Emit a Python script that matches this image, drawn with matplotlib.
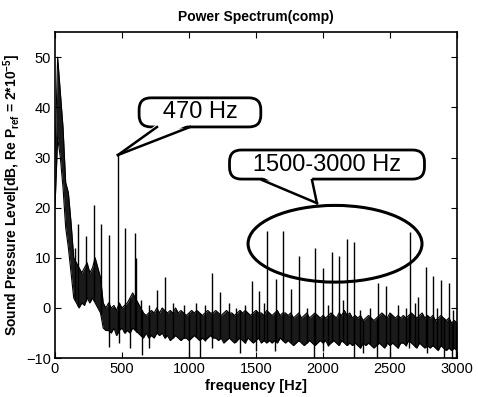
import numpy as np
import matplotlib
matplotlib.use('Agg')
import matplotlib.pyplot as plt
from matplotlib.patches import Ellipse, Polygon
from matplotlib.lines import Line2D

plt.rcParams['font.family'] = ['Liberation Sans', 'DejaVu Sans']
plt.rcParams['mathtext.fontset'] = 'custom'
plt.rcParams['mathtext.rm'] = 'Liberation Sans'
plt.rcParams['mathtext.bf'] = 'Liberation Sans:bold'
plt.rcParams['mathtext.default'] = 'bf'

# noise band of the spectrum, every 20 Hz from 0 to 3000 Hz
band_freq = np.arange(0, 3001, 20)
band_upper = [30, 50, 43, 36, 25, 23, 17, 10, 9, 8,
              7, 8, 9, 7, 8, 10, 8, 6, 1, 0,
              1, 0, 0.5, -0.5, 1, 0, 0.5, 1, 2, 3,
              2, 1, 0, -1, -1.5, -1, -0.5, -1, 0, -1,
              0, -0.5, -1, -0.5, -1, 0, -1, -0.5, -1, -1.5,
              -1, -0.5, -1, -0.5, -1, -1.5, -1, -0.5, -1, -1,
              -0.5, -1, -1.5, -1, -0.5, -1, -1, -1.5, -1, -0.5,
              -1, -0.5, -1, -1.5, -1, -0.5, -1, -1, -1.5, -0.5,
              -1, -1.5, -1, -0.5, -1.5, -1, -1, -1.5, -1, -2,
              -1.5, -1, -2, -1.5, -1, -2, -1.5, -1, -1.5, -2,
              -1.5, -2, -1.5, -1, -1.5, -2, -1, -1.5, -0.5, -1.5,
              -1, -2, -1.5, -2, -1.5, -2.5, -2, -1.5, -2, -2.5,
              -2, -1.5, -1, -1.5, -2, -1, -1.5, -2, -1.5, -2,
              -1.5, -2, -1.5, -1, -1.5, -2, -1.5, -1, -2, -1.5,
              -2, -1.5, -2.5, -2, -1.5, -2, -2.5, -2, -3, -2.5,
              -3]
band_lower = [20, 34, 30, 24, 16, 12, 7, 2, 1, 0,
              1, 0.5, 2, 1, 2, 1, 0, -1, -4, -4.5,
              -4.5, -5, -4, -5.5, -4.5, -4, -5, -4.5, -5, -4,
              -4.5, -5, -5.5, -6, -5, -6, -5.5, -6, -5, -5.5,
              -5, -6, -5.5, -6.5, -6, -5.5, -6, -6.5, -6, -6,
              -6.5, -6, -5.5, -6, -6.5, -6, -6.5, -6, -5.5, -6,
              -6, -6.5, -6, -7, -6.5, -6, -6.5, -7, -6.5, -6,
              -6.5, -7, -6, -6.5, -7, -6.5, -6, -7, -6.5, -7,
              -6.5, -7, -6.5, -7, -6, -6.5, -7, -6.5, -7, -7.5,
              -7, -6.5, -7, -7.5, -7, -6.5, -7, -7.5, -7, -6.5,
              -7, -6.5, -7.5, -7, -6.5, -7, -7.5, -6.5, -7, -7.5,
              -7, -7.5, -7, -7.5, -8, -7, -7.5, -7, -7.5, -8,
              -7.5, -7, -7.5, -8, -7, -7.5, -7, -7.5, -8, -7,
              -7, -7.5, -6.5, -7, -7.5, -8, -7, -7.5, -8, -7.5,
              -8, -7.5, -8, -8.5, -7.5, -8, -8.5, -8, -8.5, -8,
              -8.5]

# tonal peaks (Hz, dB)
peak_freq = [150, 174, 231, 293, 343, 403, 470, 522, 597, 608, 759, 821,
             1172, 1231, 1470, 1525, 1585, 1647, 1704, 1761, 1823, 1943,
             2002, 2065, 2122, 2177, 2234, 2413, 2470, 2649, 2711, 2766,
             2823, 2878, 2938]
peak_db = [12, 16.7, 14.3, 20.5, 16.7, 14.5, 30.5, 16, 15, 10, 3.5, 6.1,
           7, 3.2, 5.3, 3.4, 15.3, 5.7, 15.3, 3.7, 10.3, 11.9,
           8, 11.1, 10.3, 13.7, 13.2, 4.9, 4.3, 15.1, 2.2, 8.1,
           6.3, 5.5, 4.9]

# small spikes just above the noise band (Hz, dB)
blip_freq = [640, 700, 880, 960, 1050, 1120, 1300, 1350, 1420, 1560, 1880,
             2040, 2150, 2280, 2350, 2560, 2620, 2690, 2850, 2970]
blip_db = [1.5, 0.5, 1, 0.5, 1, 0.5, 1, 0, 0.5, 1, 0,
           0.5, 1.5, -0.5, 0, 0.5, 0, 1, 0, -0.5]

# downward spikes (Hz, dB)
dip_freq = [400, 480, 560, 650, 700, 1000, 1080, 1170, 1380, 1500, 1640,
            1930, 2000, 2230, 2300, 2400, 2500, 2640, 2780, 2900, 2960, 2990]
dip_db = [-7.7, -7, -8, -9.3, -8, -10, -10, -8, -9, -8.5, -8.5,
          -10, -8.5, -10, -9, -10, -10, -8, -9, -10, -10, -10]

# callouts: label, pointed point (Hz, dB), label centre (Hz, dB)
note_text = ['470 Hz', '1500-3000 Hz']
note_xy = [(470, 30.5), (1955, 20.9)]
note_text_xy = [(1082, 39), (2030, 28.6)]
# region ellipse: centre (Hz, dB), width (Hz), height (dB)
ell_center = (2090, 12.8)
ell_w, ell_h = 1298, 15.3

W, H = 478, 397
fig = plt.figure(figsize=(W / 100, H / 100), dpi=100)
ax = fig.add_axes([0.115, 0.098, 0.841, 0.821])

ax.fill_between(band_freq, band_lower, band_upper, color='#1a1a1a', lw=0)
ax.plot(band_freq, band_upper, color='black', lw=0.8)
ax.plot(band_freq, band_lower, color='black', lw=0.8)
peak_base = np.interp(peak_freq, band_freq, band_lower)
ax.vlines(peak_freq, peak_base, peak_db, color='black', lw=1.0)
blip_base = np.interp(blip_freq, band_freq, band_lower)
ax.vlines(blip_freq, blip_base, blip_db, color='black', lw=1.0)
dip_base = np.interp(dip_freq, band_freq, band_upper)
ax.vlines(dip_freq, dip_base, dip_db, color='black', lw=1.0)

ax.set_xlim(0, 3000)
ax.set_ylim(-10, 55)
ax.set_xticks([0, 500, 1000, 1500, 2000, 2500, 3000])
ax.set_yticks([-10, 0, 10, 20, 30, 40, 50])
ax.tick_params(direction='in', top=True, right=True, length=4, labelsize=10.5, pad=3)
for s in ax.spines.values():
    s.set_linewidth(1.2)

ax.set_title('Power Spectrum(comp)', fontsize=10, fontweight='bold', pad=8)
ax.set_xlabel('frequency [Hz]', fontsize=10.5, fontweight='bold', labelpad=2)
ax.set_ylabel('Sound Pressure Level[dB, Re P$_{ref}$ = 2*10$^{-5}$]',
              fontsize=10, fontweight='bold', labelpad=2)

ax.add_patch(Ellipse(ell_center, ell_w, ell_h, fill=False, ec='black', lw=2.2))

# speech-bubble callouts; wedge base given in pixels from the top-left corner
wedge_base = [((157, 127), (190, 127)), ((262, 180), (312, 180))]
to_fig = fig.transFigure.inverted()
for txt, xy, txy, base in zip(note_text, note_xy, note_text_xy, wedge_base):
    ax.text(txy[0], txy[1], '   ' + txt + '   ', fontsize=17, ha='center', va='center', zorder=5,
            bbox=dict(boxstyle='round,pad=0.15,rounding_size=0.5', fc='white', ec='black', lw=2))
    tip = to_fig.transform(ax.transData.transform(xy))
    b1 = (base[0][0] / W, 1 - base[0][1] / H)
    b2 = (base[1][0] / W, 1 - base[1][1] / H)
    inside = 3 / H
    fig.patches.append(Polygon([(b1[0], b1[1] + inside), (b2[0], b2[1] + inside), tip],
                               closed=True, fc='white', ec='none', transform=fig.transFigure,
                               zorder=6))
    for b in (b1, b2):
        fig.lines.append(Line2D([b[0], tip[0]], [b[1], tip[1]], color='black', lw=1.8,
                                transform=fig.transFigure, zorder=7))

fig.savefig('out.png', dpi=100)
